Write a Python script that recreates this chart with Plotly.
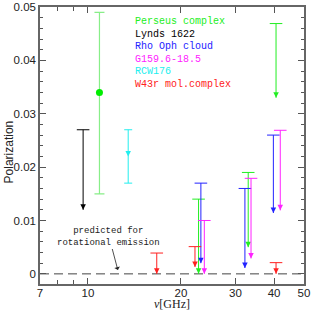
import numpy as np
import plotly.graph_objects as go

# ---------------- data ----------------
x_ticks = [7, 10, 20, 30, 40, 50]
x_minor = [8, 9]

# Perseus complex: detection with asymmetric error bar
perseus_freq = [10.9]
perseus_pol = [0.034]
perseus_err_plus = [0.015]
perseus_err_minus = [0.019]
# upper limits (cap value, arrow end)
perseus_ul_freq = [22.8, 33.0, 40.6]
perseus_ul_top = [0.014, 0.019, 0.0469]
perseus_ul_end = [0.0, 0.005, 0.033]

lynds_ul_freq = [9.65]
lynds_ul_top = [0.027]
lynds_ul_end = [0.012]

rho_ul_freq = [23.2, 32.2, 39.8]
rho_ul_top = [0.017, 0.016, 0.026]
rho_ul_end = [0.002, 0.0011, 0.0114]

g159_ul_freq = [23.8, 33.7, 41.9]
g159_ul_top = [0.010, 0.0179, 0.0269]
g159_ul_end = [0.0, 0.0029, 0.0119]

rcw_freq = [13.5]
rcw_pol = [0.022]
rcw_err = [0.005]

w43_ul_freq = [16.7, 22.2, 40.6]
w43_ul_top = [0.0039, 0.0051, 0.0021]
w43_ul_end = [0.0, 0.0013, 0.0]

legend_labels = ["Perseus complex", "Lynds 1622", "Rho Oph cloud",
                 "G159.6-18.5", "RCW176", "W43r mol.complex"]
legend_colors = ["#22ee22", "#000000", "#2222ff", "#ff22ff", "#22eeee", "#ff2020"]

GREEN, BLACK, BLUE, MAG, CYAN, RED = legend_colors

fig = go.Figure()


def add_upper_limits(freq, top, end, color):
    xs, ys = [], []
    for f, t, e in zip(freq, top, end):
        xs += [f, f, None]
        ys += [t, e, None]
    fig.add_trace(go.Scatter(x=xs, y=ys, mode="lines",
                             line=dict(color=color, width=1),
                             hoverinfo="skip", showlegend=False))
    # caps
    fig.add_trace(go.Scatter(x=freq, y=top, mode="markers",
                             marker=dict(symbol="line-ew", size=9,
                                         line=dict(color=color, width=1)),
                             showlegend=False))
    # arrow heads
    fig.add_trace(go.Scatter(x=freq, y=end, mode="markers",
                             marker=dict(symbol="arrow-down", size=5.5,
                                         color=color,
                                         line=dict(color=color, width=0)),
                             showlegend=False))


# Perseus detection
fig.add_trace(go.Scatter(
    x=perseus_freq, y=perseus_pol, mode="markers",
    marker=dict(symbol="circle", size=7, color="#00ee00"),
    error_y=dict(type="data", symmetric=False, array=perseus_err_plus,
                 arrayminus=perseus_err_minus, color="#88ee88",
                 thickness=1.2, width=5),
    showlegend=False))

# RCW
fig.add_trace(go.Scatter(
    x=rcw_freq, y=rcw_pol, mode="markers",
    marker=dict(symbol="arrow-down", size=5.5, color=CYAN),
    error_y=dict(type="data", array=rcw_err, color=CYAN, thickness=1, width=4),
    showlegend=False))

add_upper_limits(perseus_ul_freq, perseus_ul_top, perseus_ul_end, GREEN)
add_upper_limits(lynds_ul_freq, lynds_ul_top, lynds_ul_end, BLACK)
add_upper_limits(rho_ul_freq, rho_ul_top, rho_ul_end, BLUE)
add_upper_limits(g159_ul_freq, g159_ul_top, g159_ul_end, MAG)
add_upper_limits(w43_ul_freq, w43_ul_top, w43_ul_end, RED)

# dashed line at 0 (prediction for rotational emission)
fig.add_shape(type="line", xref="paper", x0=0, x1=1, yref="y", y0=0, y1=0,
              line=dict(color="#444444", width=1, dash="9px,5px"), layer="below")

# annotation with arrow
note_text = "predicted for<br>rotational emission"
note_tail = (11.7, 0.0070)
note_tip = (12.5, 0.0007)
fig.add_annotation(x=np.log10(note_tip[0]), y=note_tip[1],
                   ax=np.log10(note_tail[0]), ay=note_tail[1],
                   axref="x", ayref="y", xref="x", yref="y",
                   text=note_text, showarrow=True, arrowhead=1,
                   arrowsize=1.2, arrowwidth=0.8, arrowcolor="#222",
                   font=dict(family="Liberation Mono", size=9, color="#222"),
                   align="center")

# legend as coloured text
for i, (lab, col) in enumerate(zip(legend_labels, legend_colors)):
    fig.add_annotation(xref="paper", yref="paper", x=0.352,
                       y=0.948 - i * 0.0455, xanchor="left", yanchor="middle",
                       text=lab, showarrow=False,
                       font=dict(family="Liberation Mono", size=10, color=col))

# axis titles
fig.add_annotation(xref="paper", yref="paper", x=0.5, y=-0.072,
                   xanchor="center", yanchor="middle", showarrow=False,
                   text="<i>ν</i>[GHz]",
                   font=dict(family="Liberation Serif", size=12, color="#222"))
fig.add_annotation(xref="paper", yref="paper", x=-0.118, y=0.478,
                   xanchor="center", yanchor="middle", showarrow=False,
                   text="Polarization", textangle=-90,
                   font=dict(family="Liberation Sans", size=12, color="#222"))

axis_common = dict(showline=True, linecolor="#666666", linewidth=1.5,
                   mirror="allticks", ticks="inside", tickcolor="#555555",
                   showgrid=False, zeroline=False, automargin=False,
                   tickfont=dict(family="Liberation Sans", size=11.5, color="#222"))

fig.update_xaxes(type="log", range=[np.log10(7), np.log10(50)],
                 tickvals=x_ticks, ticktext=[str(v) for v in x_ticks],
                 ticklen=6, tickwidth=1, ticklabelstandoff=-3,
                 minor=dict(tickvals=x_minor, ticks="inside", ticklen=4,
                            tickcolor="#555555", showgrid=False),
                 **axis_common)
fig.update_yaxes(range=[-0.0019, 0.05], tick0=0, dtick=0.01,
                 ticklen=6, tickwidth=1,
                 minor=dict(dtick=0.002, ticks="inside", ticklen=3.5,
                            tickcolor="#555555", showgrid=False),
                 **axis_common)

fig.update_layout(width=314, height=312,
                  margin=dict(l=40, r=10, t=7, b=28),
                  paper_bgcolor="white", plot_bgcolor="white",
                  showlegend=False)

fig.write_html("out.html", config={"displayModeBar": False},
               post_script="document.body.style.margin='0';")
